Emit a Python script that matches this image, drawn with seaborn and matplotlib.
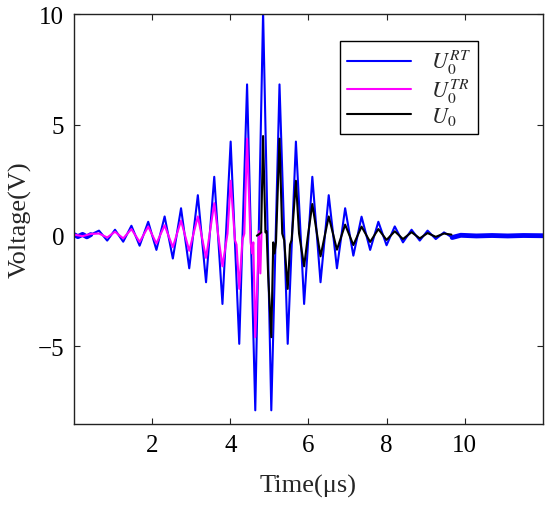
import numpy as np
import pandas as pd
import matplotlib
matplotlib.use("Agg")
import matplotlib.pyplot as plt
import seaborn as sns

# values: extrema (and a few shoulders) of each trace
t_rt = [0.00, 0.10, 0.22, 0.33, 0.43, 0.64, 0.85, 1.05, 1.26, 1.47, 1.68, 1.90, 2.11,
        2.32, 2.53, 2.74, 2.95, 3.17, 3.38, 3.59, 3.80, 4.01, 4.23, 4.43, 4.64,
        4.84, 5.05, 5.26, 5.47, 5.68, 5.89, 6.10, 6.31, 6.52, 6.73, 6.94, 7.15,
        7.36, 7.58, 7.79, 8.00, 8.21, 8.42, 8.64, 8.85, 9.05, 9.26, 9.47, 9.68,
        9.90, 10.30, 10.70, 11.10, 11.50, 12.00]
u_rt = [0.05, -0.04, 0.06, -0.05, 0.05, 0.23, -0.22, 0.27, -0.27, 0.45, -0.45, 0.63, -0.64,
        0.87, -1.03, 1.24, -1.47, 1.83, -2.10, 2.66, -3.08, 4.25, -4.88, 6.83, -7.88,
        10.1, -7.88, 6.83, -4.88, 4.25, -3.08, 2.66, -2.10, 1.83, -1.47, 1.24, -0.90,
        0.86, -0.64, 0.63, -0.43, 0.42, -0.30, 0.27, -0.22, 0.23, -0.15, 0.15, -0.08,
        0.02, -0.01, 0.01, -0.01, 0.01, 0.00]

t_tr = [0.00, 0.22, 0.43, 0.64, 0.85, 1.05, 1.26, 1.47, 1.68, 1.90, 2.11, 2.32, 2.53,
        2.74, 2.95, 3.17, 3.38, 3.59, 3.70, 3.80, 3.93, 4.01, 4.12, 4.16, 4.23,
        4.31, 4.36, 4.43, 4.52, 4.56, 4.59, 4.64, 4.70, 4.73, 4.77, 4.80]
u_tr = [0.05, -0.02, 0.08, 0.10, -0.08, 0.18, -0.12, 0.30, -0.28, 0.41, -0.35, 0.47, -0.52,
        0.68, -0.68, 0.87, -1.00, 1.47, -0.10, -1.38, 0.10, 2.48, -0.20, -0.40, -2.40,
        -0.20, 0.10, 4.38, -0.30, -0.80, -0.30, -4.58, -1.80, 0.20, -1.70, 0.15]

t_0 = [4.68, 4.72, 4.76, 4.79, 4.84, 4.90, 4.93, 4.97, 5.05, 5.10, 5.13, 5.17, 5.26,
       5.33, 5.38, 5.47, 5.53, 5.57, 5.68, 5.76, 5.89, 5.98, 6.10, 6.31, 6.52,
       6.73, 6.94, 7.15, 7.36, 7.58, 7.79, 8.00, 8.21, 8.42, 8.64, 8.85, 9.05,
       9.26, 9.47, 9.66]
u_0 = [0.00, 0.05, 0.10, 0.15, 4.50, 0.15, 0.20, -1.80, -4.58, -0.30, -0.80, -0.30, 4.38,
       0.10, -0.20, -2.40, -0.40, -0.20, 2.48, 0.10, -1.38, -0.10, 1.43, -0.93, 0.87,
       -0.63, 0.50, -0.42, 0.41, -0.28, 0.30, -0.19, 0.20, -0.15, 0.16, -0.12, 0.12,
       -0.05, 0.10, 0.05]

x_ticks = [2, 4, 6, 8, 10]
y_ticks = [-5, 0, 5, 10]

df_rt = pd.DataFrame({"t": t_rt, "u": u_rt})
df_tr = pd.DataFrame({"t": t_tr, "u": u_tr})
df_0 = pd.DataFrame({"t": t_0, "u": u_0})

sns.set_theme(style="ticks")
plt.rcParams["font.family"] = ["Liberation Serif", "DejaVu Serif"]
plt.rcParams["mathtext.fontset"] = "stix"

fig = plt.figure(figsize=(5.5, 5.06), dpi=100)
ax = fig.add_axes([0.1345, 0.160, 0.8525, 0.810])

lw = 1.5
sns.lineplot(data=df_rt, x="t", y="u", ax=ax, color="#0000ff", lw=lw,
             estimator=None, sort=False, label=r"$U_0^{RT}$")
# noisy flat parts of the blue trace look like a thick band
head = df_rt[df_rt.t <= 0.45]
tail = df_rt[df_rt.t >= 9.68]
ax.plot(head.t, head.u, color="#0000ff", lw=3.5)
ax.plot(tail.t, tail.u, color="#0000ff", lw=3.5)
sns.lineplot(data=df_tr, x="t", y="u", ax=ax, color="#ff00ff", lw=lw,
             estimator=None, sort=False, label=r"$U_0^{TR}$")
sns.lineplot(data=df_0, x="t", y="u", ax=ax, color="#000000", lw=lw,
             estimator=None, sort=False, label=r"$U_0$")

ax.set_xlim(0, 12)
ax.set_ylim(-8.5, 10)
ax.set_xticks(x_ticks)
ax.set_yticks(y_ticks)
ax.set_xticklabels([str(v) for v in x_ticks])
ax.set_yticklabels(["\u2212" + str(-v) if v < 0 else str(v) for v in y_ticks])
ax.tick_params(direction="in", length=4.5, width=0.8, labelsize=18, pad=7,
               top=True, right=True, colors="#222222", labelcolor="black")
for s in ax.spines.values():
    s.set_visible(True)
    s.set_linewidth(1.0)
    s.set_color("#222222")

ax.set_xlabel("Time(\u03bcs)", fontsize=19, labelpad=13)
ax.set_ylabel("Voltage(V)", fontsize=19, labelpad=4)

leg = ax.legend(loc="upper right", bbox_to_anchor=(0.861, 0.934), borderaxespad=0,
                fontsize=16, handlelength=2.9, handletextpad=0.9, labelspacing=0.0,
                fancybox=False, framealpha=1, edgecolor="black", borderpad=0.3)
leg.get_frame().set_linewidth(1.0)

fig.savefig("out.png", dpi=100)
